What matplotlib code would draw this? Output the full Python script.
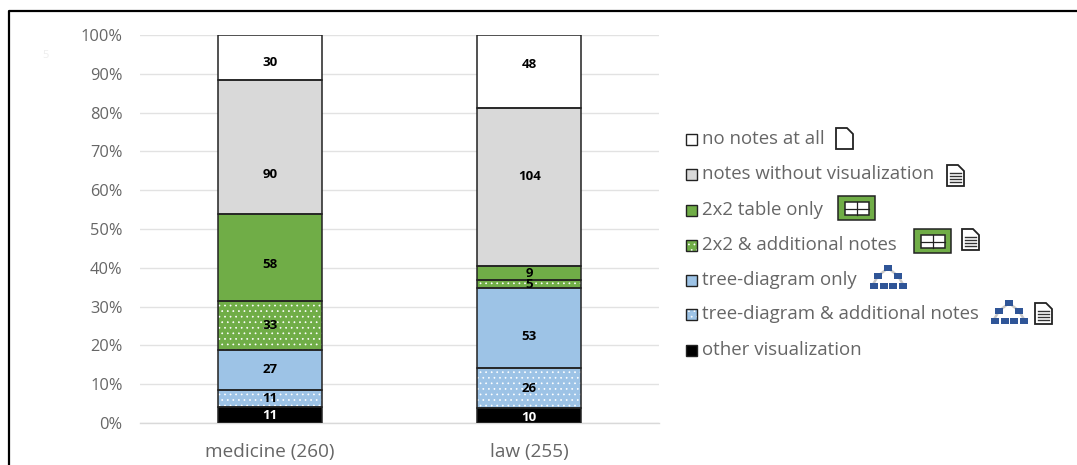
import matplotlib
matplotlib.use("Agg")
import matplotlib.pyplot as plt
from matplotlib.patches import Rectangle, Polygon
import numpy as np

W, H = 1077, 465
FONT = "Open Sans"
plt.rcParams['font.family'] = [FONT, 'DejaVu Sans']
plt.rcParams['hatch.linewidth'] = 0.5

categories = ["medicine (260)", "law (255)"]
series_names = ["other visualization", "tree-diagram & additional notes", "tree-diagram only",
                "2x2 & additional notes", "2x2 table only", "notes without visualization", "no notes at all"]
other = [11, 10]
tree_notes = [11, 26]
tree_only = [27, 53]
table_notes = [33, 5]
table_only = [58, 9]
notes_only = [90, 104]
no_notes = [30, 48]
series_values = [other, tree_notes, tree_only, table_notes, table_only, notes_only, no_notes]
series_colors = ["#000000", "#9DC3E6", "#9DC3E6", "#70AD47", "#70AD47", "#D9D9D9", "#FFFFFF"]
series_dotted = [False, True, False, True, False, False, False]
# the reference's value labels were moved by hand from their segment centres (pixels, downwards)
label_shift = [[1, 2], [0, 0], [-1, 9], [0, 1], [7, 0], [28, -11], [5, -7]]
ytick_labels = [f"{p}%" for p in range(0, 101, 10)]

fig = plt.figure(figsize=(W/100, H/100), dpi=100)
px = fig.add_axes([0, 0, 1, 1], zorder=0)
px.set_xlim(0, W); px.set_ylim(H, 0); px.axis("off")

ax = fig.add_axes([140/W, 1-423/H, 519/W, 388/H], zorder=1)
ax.patch.set_alpha(0)
ax.set_xlim(-0.5, 1.5); ax.set_ylim(0, 100)
for s in ["top", "right", "left"]:
    ax.spines[s].set_visible(False)
ax.spines["bottom"].set_color("#D9D9D9"); ax.spines["bottom"].set_linewidth(1)
ax.set_yticks(np.arange(0, 101, 10)); ax.set_yticklabels(ytick_labels)
ax.set_xticks([0, 1]); ax.set_xticklabels(categories)
ax.tick_params(length=0, labelcolor="#666666")
ax.tick_params(axis="x", pad=14.7, labelsize=13.7)
ax.tick_params(axis="y", pad=12.5, labelsize=11.8)
ax.yaxis.grid(True, color="#E2E2E2", lw=1); ax.set_axisbelow(True)

totals = np.sum(series_values, axis=0)
bottom = np.zeros(2)
for vals, col, dotted, shift in zip(series_values, series_colors, series_dotted, label_shift):
    pct = np.array(vals) / totals * 100
    ax.bar([0, 1], pct, 0.4, bottom=bottom, color=col,
           edgecolor="white" if dotted else col, hatch="..." if dotted else None, lw=0, zorder=2)
    ax.bar([0, 1], pct, 0.4, bottom=bottom, fill=False, edgecolor="#222222", lw=1.1, zorder=3)
    for i, (v, p) in enumerate(zip(vals, pct)):
        ax.annotate(str(v), (i, bottom[i] + p/2), xytext=(0, -shift[i]*0.72), textcoords="offset points",
                    ha="center", va="center", fontsize=9.5, fontweight="bold",
                    color="white" if col == "#000000" else "black", zorder=4)
    bottom += pct

# frame of the screenshot
px.plot([9, 9, W], [H, 11.5, 11.5], color="black", lw=1.6, solid_capstyle="butt")
px.text(46, 56, "5", color="#EDEDED", fontsize=8, ha="center", va="center")

def doc(x, y, lines=True):
    """Small page icon with its top-left corner at x, y."""
    w, h = 17, 21
    px.add_patch(Polygon([(x, y), (x+w-6, y), (x+w, y+6), (x+w, y+h), (x, y+h)], closed=True,
                         fc="white", ec="#222222", lw=1.3))
    if lines:
        for dy in (8, 11, 14, 17):
            px.plot([x+3, x+w-3], [y+dy, y+dy], color="#333333", lw=1.0)

def table(x, y):
    px.add_patch(Rectangle((x, y), 37, 24, fc="#70AD47", ec="#222222", lw=1.1))
    px.add_patch(Rectangle((x+7, y+6), 24, 13, fc="white", ec="#222222", lw=1.1))
    px.plot([x+19, x+19], [y+6, y+19], color="#222222", lw=0.9)
    px.plot([x+7, x+31], [y+12.5, y+12.5], color="#222222", lw=0.9)

def tree(x, y):
    c = "#2F5597"
    px.plot([x+18, x+8, x+2], [y+3, y+11, y+21], color="#C8C8C8", lw=1.8)
    px.plot([x+18, x+28, x+34], [y+3, y+11, y+21], color="#C8C8C8", lw=1.8)
    for cx, cy in [(18, 3), (8, 11), (28, 11), (4, 21), (14, 21), (23, 21), (33, 21)]:
        px.add_patch(Rectangle((x+cx-3.8, y+cy-2.8), 7.6, 5.6, fc=c, ec="none", zorder=3))

legend_y = [139, 174, 210, 245, 280, 314, 350]
legend_labels = series_names[::-1]
legend_cols = series_colors[::-1]
legend_dots = series_dotted[::-1]
for yy, lab, col, dotted in zip(legend_y, legend_labels, legend_cols, legend_dots):
    px.add_patch(Rectangle((685.5, yy-5.5), 11.5, 11.5, fc=col, ec="white" if dotted else col,
                           hatch="..." if dotted else None, lw=0, zorder=2))
    px.add_patch(Rectangle((685.5, yy-5.5), 11.5, 11.5, fill=False, ec="#222222", lw=1, zorder=3))
    px.text(702, yy, lab, fontsize=13.45, color="#666666", va="center", ha="left")

doc(836, 128, lines=False)
doc(947, 165)
table(838, 196)
table(913.5, 229); doc(962, 229)
tree(870, 265)
tree(991, 300); doc(1035, 303)

fig.savefig("out.png", dpi=100)
